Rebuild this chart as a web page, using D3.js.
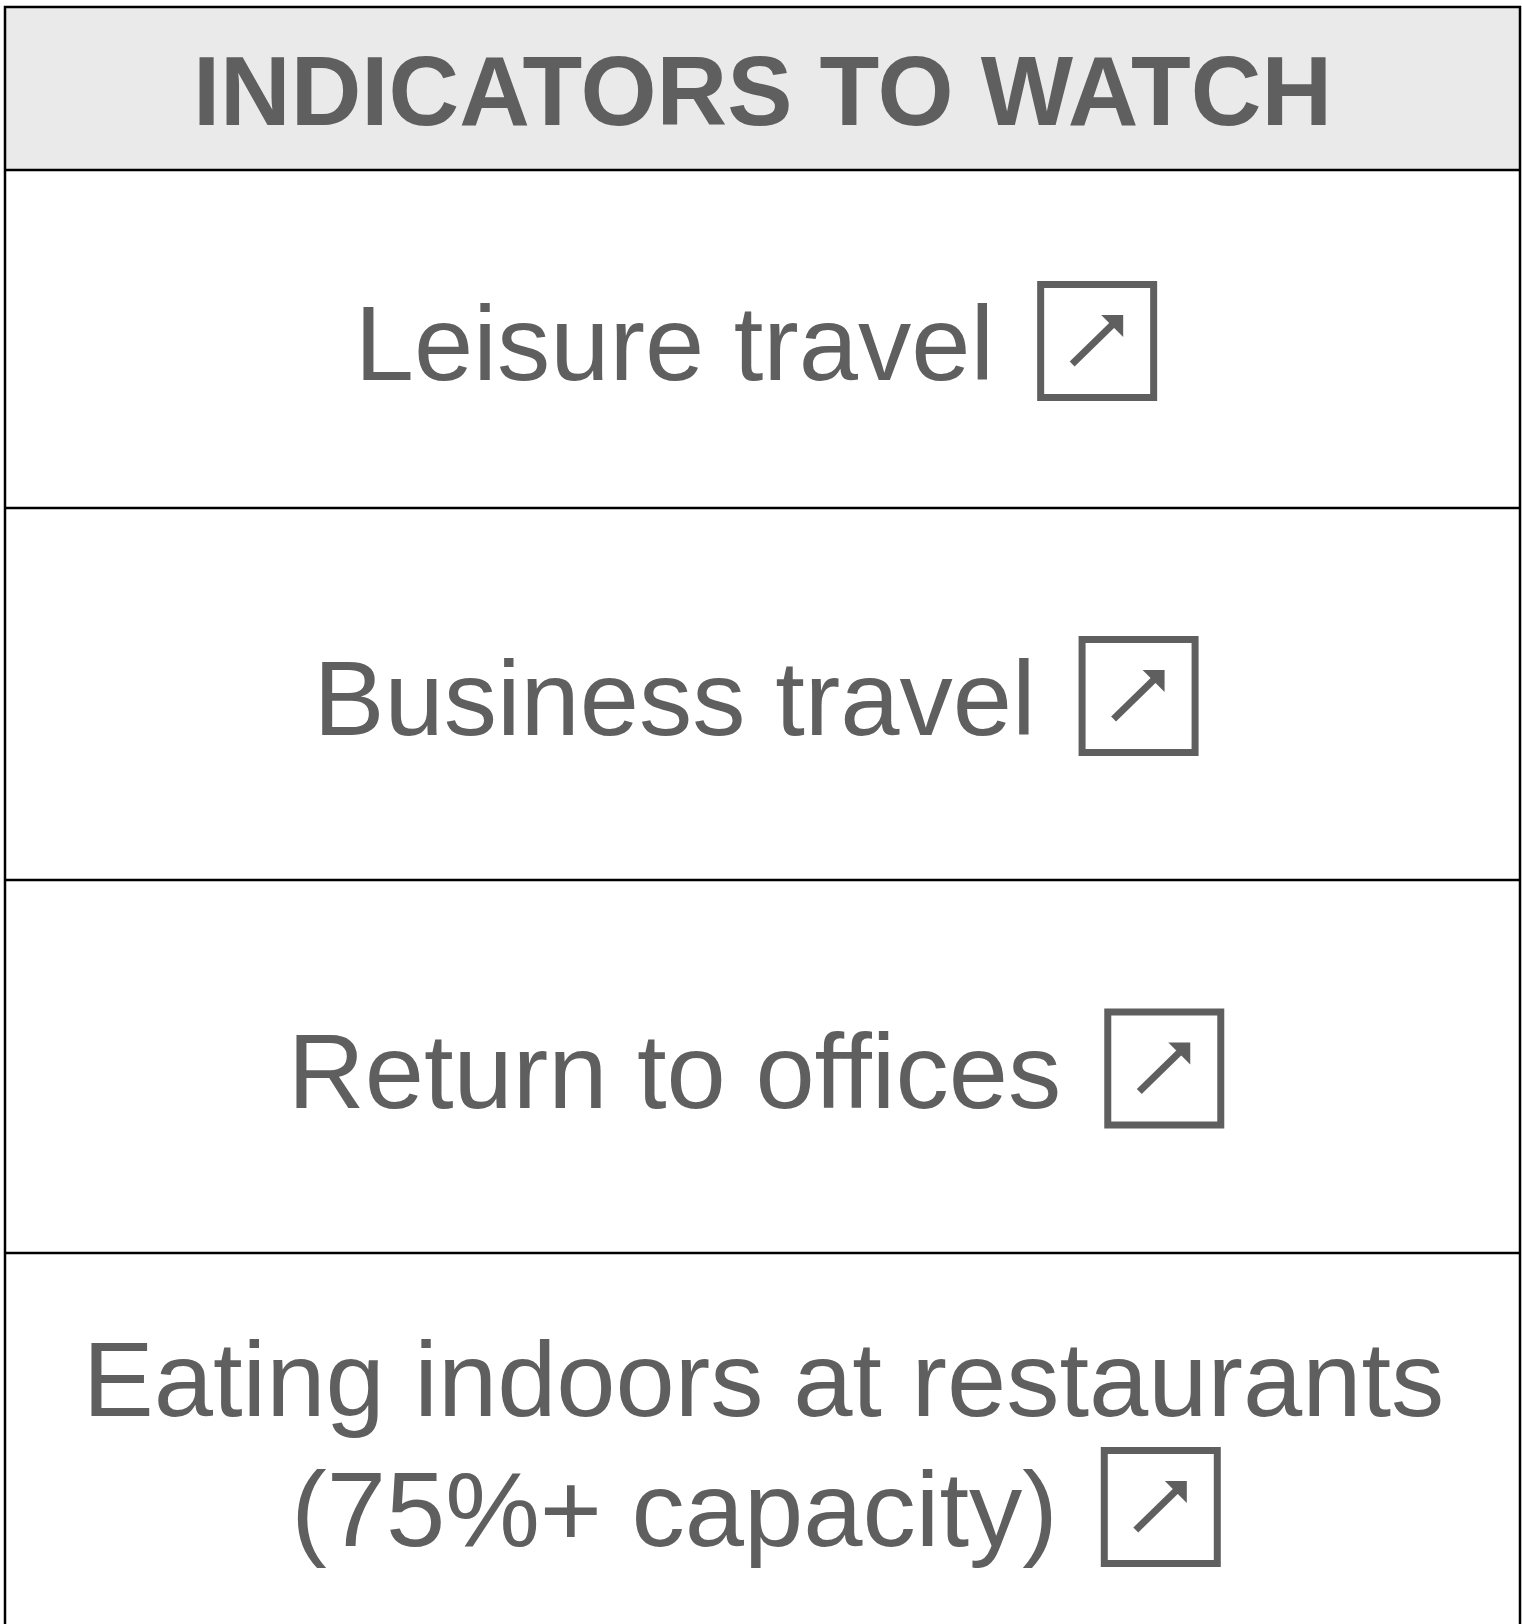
<!DOCTYPE html>
<html>
<head>
<meta charset="utf-8">
<script src="https://cdn.jsdelivr.net/npm/d3@7"></script>
<style>
  body { margin: 0; background: #fff; }
  svg { display: block; }
</style>
</head>
<body>
<svg width="1522" height="1624"></svg>
<script>
// table content
const title = "INDICATORS TO WATCH";
const indicators = ["Leisure travel", "Business travel", "Return to offices", "Eating indoors at restaurants|(75%+ capacity)"];
const trends = ["up", "up", "up", "up"];

const svg = d3.select("svg");

const LEFT = 5, RIGHT = 1520;
const TOP = 7, HEAD_BOTTOM = 170;
const ROW_EDGES = [170, 508, 880, 1253, 1627];
const TEXT_COLOR = "#5f5f5f";
const FONT = "'Liberation Sans', Arial, Helvetica, sans-serif";
const ICON = 120, GAP = 43, LINE_H = 130;

// header
svg.append("rect")
    .attr("x", LEFT).attr("y", TOP)
    .attr("width", RIGHT - LEFT).attr("height", HEAD_BOTTOM - TOP)
    .attr("fill", "#eaeaea");

svg.append("text")
    .attr("x", (LEFT + RIGHT) / 2)
    .attr("y", (TOP + HEAD_BOTTOM) / 2 + 36)
    .attr("text-anchor", "middle")
    .attr("font-family", FONT)
    .attr("font-weight", "bold")
    .attr("font-size", 97.8)
    .attr("fill", TEXT_COLOR)
    .text(title);

function drawIcon(g, cx, cy, trend) {
    const ic = g.append("g").attr("transform", `translate(${cx},${cy})`);
    ic.append("rect")
        .attr("x", -ICON / 2 + 3.5).attr("y", -ICON / 2 + 3.5)
        .attr("width", ICON - 7).attr("height", ICON - 7)
        .attr("fill", "none").attr("stroke", TEXT_COLOR).attr("stroke-width", 7);
    const dir = trend === "up" ? 1 : -1;
    ic.append("line")
        .attr("x1", -25).attr("y1", 23 * dir)
        .attr("x2", 16).attr("y2", -17 * dir)
        .attr("stroke", TEXT_COLOR).attr("stroke-width", 7);
    ic.append("path")
        .attr("d", `M26,${-26 * dir} L4,${-26 * dir} L26,${-4 * dir} Z`)
        .attr("fill", TEXT_COLOR);
}

// rows
const rows = svg.selectAll("g.row")
    .data(indicators)
    .enter().append("g")
    .attr("class", "row");

rows.each(function(d, i) {
    const g = d3.select(this);
    const lines = d.split("|");
    const y0 = ROW_EDGES[i], y1 = ROW_EDGES[i + 1];
    const cy = (y0 + y1) / 2;
    const firstMid = cy - (lines.length - 1) * LINE_H / 2;
    lines.forEach((ln, j) => {
        const mid = firstMid + j * LINE_H;
        const t = g.append("text")
            .attr("y", mid + 41)
            .attr("font-family", FONT)
            .attr("font-size", 106.5)
            .attr("fill", TEXT_COLOR)
            .text(ln);
        const w = t.node().getComputedTextLength();
        if (j === lines.length - 1) {
            const total = w + GAP + ICON;
            const start = 756 - total / 2;
            t.attr("x", start);
            drawIcon(g, start + w + GAP + ICON / 2, mid + 2, trends[i]);
        } else {
            t.attr("x", (LEFT + RIGHT) / 2 + 1).attr("text-anchor", "middle");
        }
    });
});

// grid lines
svg.append("g")
    .selectAll("line")
    .data(ROW_EDGES.slice(0, 4))
    .enter().append("line")
    .attr("x1", LEFT).attr("x2", RIGHT)
    .attr("y1", d => d).attr("y2", d => d)
    .attr("stroke", "#000").attr("stroke-width", 2.5);

svg.append("rect")
    .attr("x", LEFT).attr("y", TOP)
    .attr("width", RIGHT - LEFT).attr("height", ROW_EDGES[4] - TOP)
    .attr("fill", "none").attr("stroke", "#000").attr("stroke-width", 2.5);
</script>
</body>
</html>
